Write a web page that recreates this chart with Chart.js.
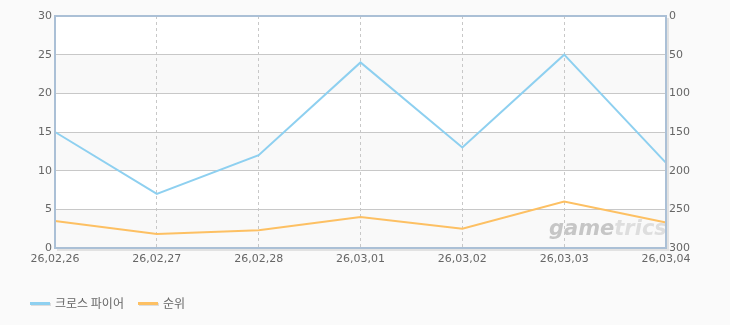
<!DOCTYPE html>
<html>
<head>
<meta charset="utf-8">
<script src="https://cdn.jsdelivr.net/npm/chart.js@4/dist/chart.umd.min.js"></script>
<style>
  html, body { margin: 0; padding: 0; background: #fafafa; }
  #wrap { position: relative; width: 730px; height: 325px; }
  #legend { position: absolute; left: 30px; top: 294px; font: 12px "Noto Sans CJK KR", "DejaVu Sans", sans-serif; color: #666; }
  #legend span.item { display: inline-block; margin-right: 14px; }
  #legend i { display: inline-block; width: 20px; height: 3px; vertical-align: middle; margin-right: 5px; box-shadow: 1px 1px 0 #ddd; position: relative; top: -1px; }
</style>
</head>
<body>
<div id="wrap">
  <canvas id="chart" width="730" height="325"></canvas>
  <div id="legend"></div>
</div>
<script>
const dates = ['26,02,26', '26,02,27', '26,02,28', '26,03,01', '26,03,02', '26,03,03', '26,03,04'];
const players = [15, 7, 12, 24, 13, 25, 11];
const ranks = [265, 282, 277, 260, 275, 240, 267];
const seriesNames = ['크로스 파이어', '순위'];
const seriesColors = ['#8ed0f0', '#fdc063'];

const tickFont = { family: '"DejaVu Sans", sans-serif', size: 11 };

// alternating bands, frame and watermark
const plotDecor = {
    id: 'plotDecor',
    beforeDraw(chart) {
        const { ctx, chartArea: a, scales } = chart;
        const y = scales.y;
        ctx.save();
        ctx.fillStyle = '#ffffff';
        ctx.fillRect(a.left, a.top, a.right - a.left, a.bottom - a.top);
        ctx.fillStyle = '#f9f9f9';
        for (let v = 0; v < 30; v += 10) {
            const top = y.getPixelForValue(v + 5);
            const bot = y.getPixelForValue(v);
            ctx.fillRect(a.left, top, a.right - a.left, bot - top);
        }
        ctx.restore();
    },
    beforeDatasetsDraw(chart) {
        const { ctx, chartArea: a } = chart;
        ctx.save();
        ctx.font = 'italic bold 21px "DejaVu Sans", sans-serif';
        ctx.textBaseline = 'alphabetic';
        const x0 = a.left + 494;
        const base = a.bottom - 13;
        ctx.fillStyle = '#c6c6c6';
        ctx.fillText('game', x0, base);
        const w = ctx.measureText('game').width;
        ctx.fillStyle = '#dedede';
        ctx.fillText('trics', x0 + w, base);
        ctx.restore();
    },
    afterDatasetsDraw(chart) {
        const { ctx, chartArea: a } = chart;
        ctx.save();
        ctx.strokeStyle = '#e2e2e2';
        ctx.lineWidth = 2;
        ctx.beginPath();
        ctx.moveTo(a.right + 2, a.top + 2);
        ctx.lineTo(a.right + 2, a.bottom + 2);
        ctx.lineTo(a.left + 2, a.bottom + 2);
        ctx.stroke();
        ctx.strokeStyle = '#abc0d6';
        ctx.lineWidth = 2;
        ctx.strokeRect(a.left, a.top, a.right - a.left, a.bottom - a.top);
        ctx.restore();
    }
};

new Chart(document.getElementById('chart'), {
    type: 'line',
    data: {
        labels: dates,
        datasets: [{
            label: seriesNames[0],
            data: players,
            borderColor: seriesColors[0],
            borderWidth: 2,
            pointRadius: 0,
            tension: 0,
            yAxisID: 'y'
        }, {
            label: seriesNames[1],
            data: ranks,
            borderColor: seriesColors[1],
            borderWidth: 2,
            pointRadius: 0,
            tension: 0,
            yAxisID: 'y1'
        }]
    },
    options: {
        responsive: false,
        animation: false,
        layout: { padding: { top: 16, left: 0, right: 0, bottom: 0 } },
        plugins: { legend: { display: false }, tooltip: { enabled: false } },
        scales: {
            x: {
                offset: false,
                border: { display: false, dash: [3, 3] },
                grid: { color: '#c8c8c8', drawTicks: false, tickLength: 0 },
                ticks: { color: '#666', font: tickFont, maxRotation: 0, autoSkip: false, padding: 5 },
                afterFit(scale) { scale.height = 77; }
            },
            y: {
                position: 'left',
                min: 0, max: 30,
                border: { display: false },
                grid: { color: '#c8c8c8', drawTicks: false },
                ticks: { stepSize: 5, color: '#666', font: tickFont, padding: 3 },
                afterFit(scale) { scale.width = 55; }
            },
            y1: {
                position: 'right',
                min: 0, max: 300,
                reverse: true,
                border: { display: false },
                grid: { display: false, drawTicks: false },
                ticks: { stepSize: 50, color: '#666', font: tickFont, padding: 3 },
                afterFit(scale) { scale.width = 64; }
            }
        }
    },
    plugins: [plotDecor]
});

document.getElementById('legend').innerHTML = seriesNames.map((n, i) =>
    '<span class="item"><i style="background:' + seriesColors[i] + '"></i>' + n + '</span>').join('');
</script>
</body>
</html>
